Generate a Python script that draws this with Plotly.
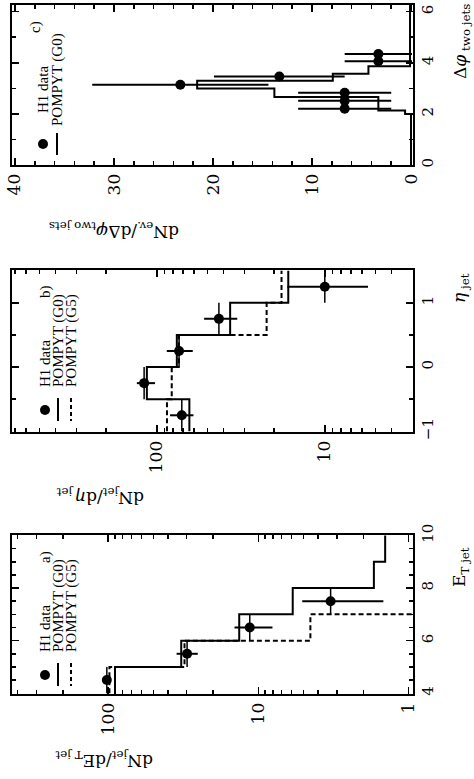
import plotly.graph_objects as go

W, H = 474, 779

# ---------------- data ----------------
# panel a : E_T jet
et_edges = [4, 5, 6, 7, 8, 9, 10]
et_g0 = [90, 32.6, 13.4, 5.9, 1.7, 1.43]
et_g5 = [98, 31, 4.5, 0.8, 0.8, 0.8]
et_centers = [4.5, 5.5, 6.5, 7.5]
et_data = [102, 29.8, 11.4, 3.3]
et_err_plus = [3.0, 5.2, 3.0, 1.8]
et_err_minus = [4.5, 4.5, 3.35, 1.83]
et_halfbin = [0.5, 0.5, 0.5, 0.5]

# panel b : eta jet
eta_edges = [-1.0, -0.5, 0.0, 0.5, 1.0, 1.5]
eta_g0 = [64, 114.6, 76, 36.6, 16.5]
eta_g5 = [87, 81.5, 74, 22.2, 18.1]
eta_centers = [-0.75, -0.25, 0.25, 0.75, 1.25]
eta_data = [71, 119, 73.7, 42.7, 10]
eta_err_plus = [12.4, 12.5, 13.5, 9.6, 6.7]
eta_err_minus = [10.5, 16.6, 12.6, 9.5, 4.47]
eta_halfbin = [0.25, 0.25, 0.25, 0.25, 0.25]

# panel c : delta phi two jets
dphi_edges = [0, 2.0, 2.13, 2.66, 2.99, 3.30, 3.57, 3.86, 6.28]
dphi_g0 = [0, 0.6, 3.3, 13.8, 21.6, 7.9, 4.3, 0.1]
dphi_centers = [2.20, 2.51, 2.83, 3.14, 3.46, 4.06, 4.34]
dphi_data = [6.7, 6.7, 6.7, 23.3, 13.3, 3.3, 3.3]
dphi_err = [4.7, 4.7, 4.7, 8.9, 6.6, 3.4, 3.4]
dphi_halfbin = [0.157] * 7

# ---------------- helpers ----------------
def fx(p):
    return p / W

def fy(p):
    return 1 - p / H

FONT = "DejaVu Serif"
LEG_FONT = "Liberation Serif"

fig = go.Figure()

def hist(values, edges, xa, ya, dash):
    fig.add_trace(go.Scatter(
        x=list(values) + [values[-1]], y=list(edges), mode="lines",
        line=dict(color="black", width=2, dash=dash, shape="vh"),
        xaxis=xa, yaxis=ya, showlegend=False, hoverinfo="skip"))

def points(vals, cents, ep, em, hb, xa, ya):
    fig.add_trace(go.Scatter(
        x=vals, y=cents, mode="markers",
        marker=dict(color="black", size=10),
        error_x=dict(type="data", array=ep, arrayminus=em, color="black",
                     thickness=2, width=0),
        error_y=dict(type="data", array=hb, arrayminus=hb, color="black",
                     thickness=1.5, width=0),
        xaxis=xa, yaxis=ya, showlegend=False, hoverinfo="skip"))

# panel a
hist(et_g0, et_edges, "x", "y", "solid")
hist(et_g5, et_edges, "x", "y", "5px,3px")
points(et_data, et_centers, et_err_plus, et_err_minus, et_halfbin, "x", "y")
# panel b
hist(eta_g0, eta_edges, "x2", "y2", "solid")
hist(eta_g5, eta_edges, "x2", "y2", "5px,3px")
points(eta_data, eta_centers, eta_err_plus, eta_err_minus, eta_halfbin, "x2", "y2")
# panel c
hist(dphi_g0, dphi_edges, "x3", "y3", "solid")
points(dphi_data, dphi_centers, dphi_err, dphi_err, dphi_halfbin, "x3", "y3")

common_axis = dict(showline=True, linecolor="black", linewidth=2, mirror="ticks",
                   ticks="inside", tickcolor="black", tickwidth=1.5, ticklen=7,
                   showgrid=False, zeroline=False, tickangle=-90, automargin=False)

log_minor = [2, 3, 4, 5, 6, 7, 8, 9, 20, 30, 40, 50, 60, 70, 80, 90,
             200, 300, 400, 500, 600, 700]

xdom = [fx(12), fx(413)]

layout = dict(
    width=W, height=H, autosize=False,
    margin=dict(l=0, r=0, t=0, b=0, pad=0, autoexpand=False),
    paper_bgcolor="white", plot_bgcolor="white",
    showlegend=False,
    # panel a
    xaxis=dict(common_axis, type="log", range=[2.64, -0.03], domain=xdom, anchor="y",
               tickvals=[1, 10, 100], ticktext=["1", "10", "100"],
               tickfont=dict(family=FONT, size=17, color="black"),
               minor=dict(tickvals=log_minor, ticks="inside", ticklen=4,
                          tickcolor="black", showgrid=False)),
    yaxis=dict(common_axis, range=[3.97, 10.02], domain=[fy(694), fy(535)], anchor="x",
               side="right", tickvals=[4, 6, 8, 10],
               tickfont=dict(family=FONT, size=15, color="black"),
               minor=dict(dtick=0.5, ticks="inside", ticklen=4, tickcolor="black",
                          showgrid=False)),
    # panel b
    xaxis2=dict(common_axis, type="log", range=[2.862, 0.475], domain=xdom, anchor="y2",
                tickvals=[10, 100], ticktext=["10", "100"],
                tickfont=dict(family=FONT, size=17, color="black"),
                minor=dict(tickvals=log_minor, ticks="inside", ticklen=4,
                           tickcolor="black", showgrid=False)),
    yaxis2=dict(common_axis, range=[-1.01, 1.51], domain=[fy(432), fy(270)], anchor="x2",
                side="right", tickvals=[-1, 0, 1], ticktext=["\u22121", "0", "1"],
                tickfont=dict(family=FONT, size=15, color="black"),
                minor=dict(dtick=0.5, ticks="inside", ticklen=4, tickcolor="black",
                           showgrid=False)),
    # panel c
    xaxis3=dict(common_axis, range=[40.3, -0.2], domain=xdom, anchor="y3",
                tickvals=[0, 10, 20, 30, 40],
                tickfont=dict(family=FONT, size=17, color="black"),
                minor=dict(dtick=2, ticks="inside", ticklen=4, tickcolor="black",
                           showgrid=False)),
    yaxis3=dict(common_axis, range=[0, 6.26], domain=[fy(165), fy(5)], anchor="x3",
                side="right", tickvals=[0, 2, 4, 6],
                tickfont=dict(family=FONT, size=15, color="black"),
                minor=dict(dtick=1, ticks="inside", ticklen=4, tickcolor="black",
                           showgrid=False)),
)
fig.update_layout(**layout)

ann = []
shapes = []

def text(x, y, s, angle, size, family=FONT):
    ann.append(dict(x=fx(x), y=fy(y), xref="paper", yref="paper", text=s,
                    showarrow=False, textangle=angle, xanchor="center",
                    yanchor="middle", font=dict(family=family, size=size, color="black")))

# axis titles (physics variable, rotated)
text(460, 567, "E<sub>T jet</sub>", -90, 17)
text(460, 288, "<i>\u03b7</i><sub> jet</sub>", -90, 17)
text(461, 42, "\u0394<i>\u03c6</i><sub> two jets</sub>", -90, 17)
# value axis titles (upside down)
text(104, 760, "dN<sub>jet</sub>/dE<sub>T jet</sub>", 180, 17)
text(100, 497, "dN<sub>jet</sub>/d<i>\u03b7</i><sub> jet</sub>", 180, 17)
text(114, 230, "dN<sub>ev.</sub>/d\u0394<i>\u03c6</i><sub>two jets</sub>", 180, 17)

# panel labels
text(45, 557, "a)", -90, 15, LEG_FONT)
text(45, 292, "b)", -90, 15, LEG_FONT)
text(36, 27, "c)", -90, 15, LEG_FONT)

# legends
def bullet(x, y, r=5):
    shapes.append(dict(type="circle", xref="paper", yref="paper",
                       x0=fx(x - r), x1=fx(x + r), y0=fy(y + r), y1=fy(y - r),
                       fillcolor="black", line=dict(color="black", width=0)))

def seg(x, y0, y1, dash):
    shapes.append(dict(type="line", xref="paper", yref="paper",
                       x0=fx(x), x1=fx(x), y0=fy(y0), y1=fy(y1),
                       line=dict(color="black", width=2, dash=dash)))

# a
bullet(45, 675)
seg(58, 663, 686, "solid")
seg(71, 663, 686, "4px,3px")
text(45, 629, "H1 data", -90, 15, LEG_FONT)
text(58, 606, "POMPYT (G0)", -90, 15, LEG_FONT)
text(71, 606, "POMPYT (G5)", -90, 15, LEG_FONT)
# b
bullet(45, 410)
seg(58, 398, 421, "solid")
seg(71, 398, 421, "4px,3px")
text(45, 364, "H1 data", -90, 15, LEG_FONT)
text(58, 341, "POMPYT (G0)", -90, 15, LEG_FONT)
text(71, 341, "POMPYT (G5)", -90, 15, LEG_FONT)
# c
bullet(43, 144)
seg(57, 133, 155, "solid")
text(43, 90, "H1 data", -90, 15, LEG_FONT)
text(58, 80, "POMPYT (G0)", -90, 15, LEG_FONT)

fig.update_layout(annotations=ann, shapes=shapes)
fig.write_html("out.html",
               config={"displayModeBar": False, "staticPlot": True},
               post_script="document.body.style.margin='0';document.body.style.overflow='hidden';")
